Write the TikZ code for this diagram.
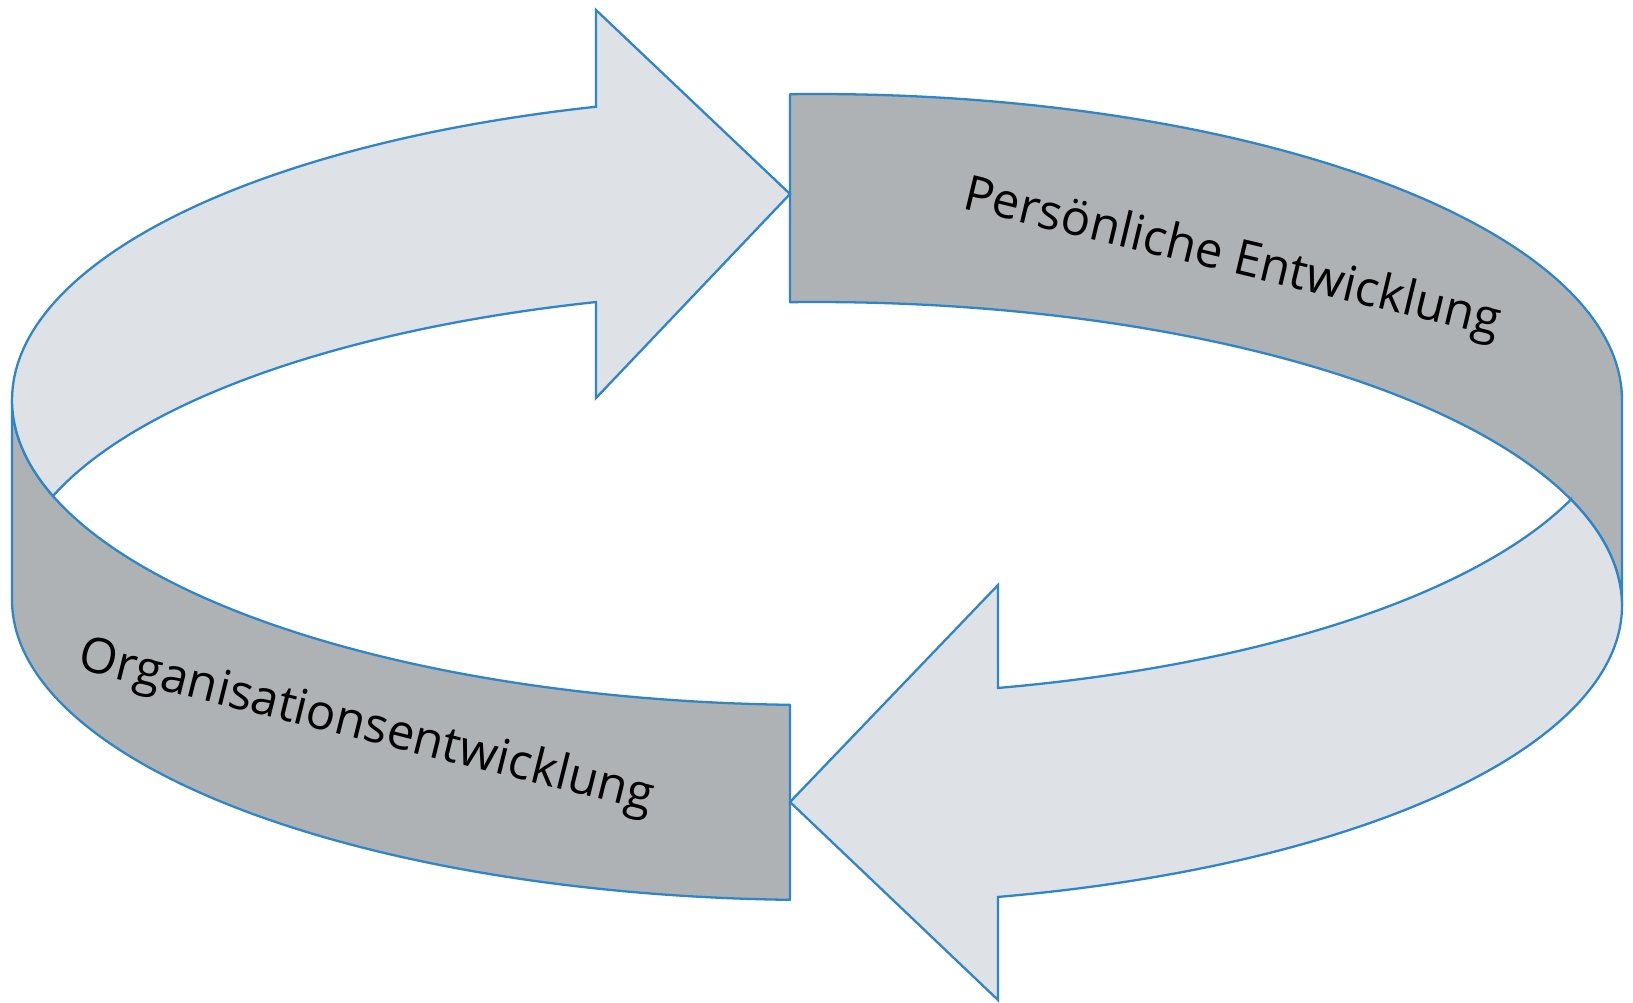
\documentclass[tikz,border=0pt]{standalone}
\usepackage{fontspec}
\setmainfont{Open Sans}
\definecolor{ringline}{HTML}{2E85C7}
\definecolor{bandfill}{HTML}{AFB2B5}
\definecolor{arrowfill}{HTML}{DEE1E6}

\begin{document}
\begin{tikzpicture}[x=0.01cm, y=-0.01cm, samples=90, variable=\t,
  band/.style={fill=bandfill, draw=ringline, line width=0.65pt, line join=round},
  flow/.style={fill=arrowfill, draw=ringline, line width=0.65pt, line join=miter},
  label/.style={font=\fontsize{13.9pt}{16pt}\selectfont, text=black, inner sep=0pt}]

\fill[white] (0,0) rectangle (1633,1003);
\useasboundingbox (0,0) rectangle (1633,1003);

% all edges are arcs of axis-aligned ellipses centred at x=817, x radius 805

% right band (back, upper right)
\path[band]
  plot[domain=268.08:360] ({817+805*cos(\t)}, {400+306*sin(\t)})
  -- (1622,606)
  -- plot[domain=360:268.08] ({817+805*cos(\t)}, {606+304*sin(\t)})
  -- cycle;

% left band (front, lower left)
\path[band]
  plot[domain=180:91.92] ({817+805*cos(\t)}, {400+305*sin(\t)})
  -- (790,900)
  -- plot[domain=91.92:180] ({817+805*cos(\t)}, {600+300*sin(\t)})
  -- cycle;

% upper arrow, pointing right
\path[flow]
  plot[domain=254.07:161.64] ({817+805*cos(\t)}, {400+305*sin(\t)})
  -- plot[domain=198.36:254.07] ({817+805*cos(\t)}, {590.5+300*sin(\t)})
  -- (596,398) -- (790,194) -- (596,10) -- cycle;

% lower arrow, pointing left
\path[flow]
  plot[domain=77.01:0] ({817+805*cos(\t)}, {606+298.6*sin(\t)})
  -- plot[domain=360:339.5] ({817+805*cos(\t)}, {606+304*sin(\t)})
  -- plot[domain=20.5:77.01] ({817+805*cos(\t)}, {393.7+302*sin(\t)})
  -- (998,585) -- (790,802) -- (998,1000) -- cycle;

\node[label, rotate=-13.5] (pers) at (1232,260) {Persönliche Entwicklung};
\node[label, rotate=-14] (orga) at (366,728) {Organisationsentwicklung};
\end{tikzpicture}
\end{document}
